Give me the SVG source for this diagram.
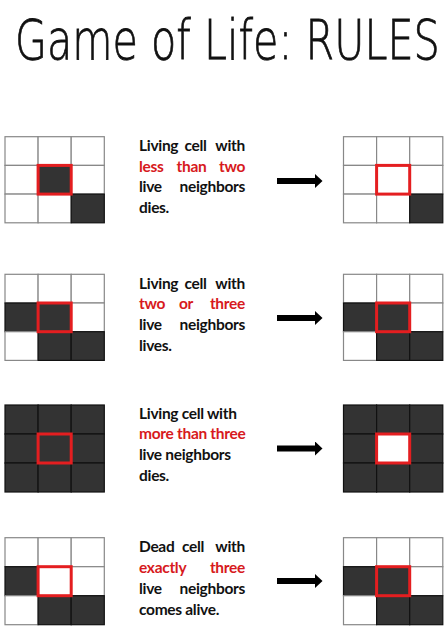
<svg xmlns="http://www.w3.org/2000/svg" width="448" height="630" viewBox="0 0 448 630">
<defs>
<style>
.c{fill:#fff;stroke:#888;stroke-width:1.2}
.d{fill:#333;stroke:#111;stroke-width:1.2}
.r{fill:none;stroke:#e41e20;stroke-width:3}
.t{font-family:Lato,"Liberation Sans",sans-serif;font-weight:bold;font-size:15.5px;letter-spacing:-0.3px;fill:#111}
.red{fill:#d71920}
.m{text-anchor:middle}
.e{text-anchor:end}
.arr{stroke:#000;stroke-width:6;fill:none}
.title{font-family:"DejaVu Sans",sans-serif;font-weight:200;font-size:56px;fill:#111;stroke:#111;stroke-width:0.8}
</style>
<marker id="ah" markerUnits="userSpaceOnUse" markerWidth="8" markerHeight="14" refX="0" refY="7" orient="auto">
<path d="M0,0 L7.5,7 L0,14 z" fill="#000"/>
</marker>
</defs>
<rect width="448" height="630" fill="#fff"/>
<text class="title" transform="translate(15,59) scale(0.74,1)" x="0" y="0" textLength="574" lengthAdjust="spacingAndGlyphs">Game of Life: RULES</text>

<!-- Rule 1 -->
<g id="grid1-before">
<rect class="c" x="5" y="136.7" width="33.1" height="28.7"/><rect class="c" x="38.1" y="136.7" width="33.1" height="28.7"/><rect class="c" x="71.2" y="136.7" width="33.1" height="28.7"/>
<rect class="c" x="5" y="165.4" width="33.1" height="28.7"/><rect class="d" x="38.1" y="165.4" width="33.1" height="28.7"/><rect class="c" x="71.2" y="165.4" width="33.1" height="28.7"/>
<rect class="c" x="5" y="194.1" width="33.1" height="28.7"/><rect class="c" x="38.1" y="194.1" width="33.1" height="28.7"/><rect class="d" x="71.2" y="194.1" width="33.1" height="28.7"/>
<rect class="r" x="38.1" y="165.4" width="33.1" height="28.7"/>
</g>
<g id="rule1-text">
<text class="t" y="151"><tspan x="139">Living</tspan><tspan x="195.5" class="m">cell</tspan><tspan x="245" class="e">with</tspan></text>
<text class="t red" y="171.5"><tspan x="139">less</tspan><tspan x="191.5" class="m">than</tspan><tspan x="245" class="e">two</tspan></text>
<text class="t" y="192"><tspan x="139">live</tspan><tspan x="245" class="e">neighbors</tspan></text>
<text class="t" y="212.5" x="139">dies.</text>
</g>
<g id="grid1-after">
<rect class="c" x="343.5" y="136.7" width="33.1" height="28.7"/><rect class="c" x="376.6" y="136.7" width="33.1" height="28.7"/><rect class="c" x="409.7" y="136.7" width="33.1" height="28.7"/>
<rect class="c" x="343.5" y="165.4" width="33.1" height="28.7"/><rect class="c" x="376.6" y="165.4" width="33.1" height="28.7"/><rect class="c" x="409.7" y="165.4" width="33.1" height="28.7"/>
<rect class="c" x="343.5" y="194.1" width="33.1" height="28.7"/><rect class="c" x="376.6" y="194.1" width="33.1" height="28.7"/><rect class="d" x="409.7" y="194.1" width="33.1" height="28.7"/>
<rect class="r" x="376.6" y="165.4" width="33.1" height="28.7"/>
</g>

<!-- Rule 2 -->
<g id="grid2-before">
<rect class="c" x="5" y="274.3" width="33.1" height="28.7"/><rect class="c" x="38.1" y="274.3" width="33.1" height="28.7"/><rect class="c" x="71.2" y="274.3" width="33.1" height="28.7"/>
<rect class="d" x="5" y="303" width="33.1" height="28.7"/><rect class="d" x="38.1" y="303" width="33.1" height="28.7"/><rect class="c" x="71.2" y="303" width="33.1" height="28.7"/>
<rect class="c" x="5" y="331.7" width="33.1" height="28.7"/><rect class="d" x="38.1" y="331.7" width="33.1" height="28.7"/><rect class="d" x="71.2" y="331.7" width="33.1" height="28.7"/>
<rect class="r" x="38.1" y="303" width="33.1" height="28.7"/>
</g>
<g id="rule2-text">
<text class="t" y="288.5"><tspan x="139">Living</tspan><tspan x="195.5" class="m">cell</tspan><tspan x="245" class="e">with</tspan></text>
<text class="t red" y="309.3"><tspan x="139">two</tspan><tspan x="186" class="m">or</tspan><tspan x="245" class="e">three</tspan></text>
<text class="t" y="330"><tspan x="139">live</tspan><tspan x="245" class="e">neighbors</tspan></text>
<text class="t" y="351" x="139">lives.</text>
</g>
<g id="grid2-after">
<rect class="c" x="343.5" y="274.3" width="33.1" height="28.7"/><rect class="c" x="376.6" y="274.3" width="33.1" height="28.7"/><rect class="c" x="409.7" y="274.3" width="33.1" height="28.7"/>
<rect class="d" x="343.5" y="303" width="33.1" height="28.7"/><rect class="d" x="376.6" y="303" width="33.1" height="28.7"/><rect class="c" x="409.7" y="303" width="33.1" height="28.7"/>
<rect class="c" x="343.5" y="331.7" width="33.1" height="28.7"/><rect class="d" x="376.6" y="331.7" width="33.1" height="28.7"/><rect class="d" x="409.7" y="331.7" width="33.1" height="28.7"/>
<rect class="r" x="376.6" y="303" width="33.1" height="28.7"/>
</g>

<!-- Rule 3 -->
<g id="grid3-before">
<rect class="d" x="5" y="405" width="33.1" height="29"/><rect class="d" x="38.1" y="405" width="33.1" height="29"/><rect class="d" x="71.2" y="405" width="33.1" height="29"/>
<rect class="d" x="5" y="434" width="33.1" height="29"/><rect class="d" x="38.1" y="434" width="33.1" height="29"/><rect class="d" x="71.2" y="434" width="33.1" height="29"/>
<rect class="d" x="5" y="463" width="33.1" height="29"/><rect class="d" x="38.1" y="463" width="33.1" height="29"/><rect class="d" x="71.2" y="463" width="33.1" height="29"/>
<rect class="r" x="38.1" y="434" width="33.1" height="29"/>
</g>
<g id="rule3-text">
<text class="t" x="139" y="418.5">Living cell with</text>
<text class="t red" x="139" y="439.3">more than three</text>
<text class="t" x="139" y="460">live neighbors</text>
<text class="t" x="139" y="481">dies.</text>
</g>
<g id="grid3-after">
<rect class="d" x="343.5" y="405" width="33.1" height="29"/><rect class="d" x="376.6" y="405" width="33.1" height="29"/><rect class="d" x="409.7" y="405" width="33.1" height="29"/>
<rect class="d" x="343.5" y="434" width="33.1" height="29"/><rect class="c" x="376.6" y="434" width="33.1" height="29"/><rect class="d" x="409.7" y="434" width="33.1" height="29"/>
<rect class="d" x="343.5" y="463" width="33.1" height="29"/><rect class="d" x="376.6" y="463" width="33.1" height="29"/><rect class="d" x="409.7" y="463" width="33.1" height="29"/>
<rect class="r" x="376.6" y="434" width="33.1" height="29"/>
</g>

<!-- Rule 4 -->
<g id="grid4-before">
<rect class="c" x="5" y="537.7" width="33.1" height="29"/><rect class="c" x="38.1" y="537.7" width="33.1" height="29"/><rect class="c" x="71.2" y="537.7" width="33.1" height="29"/>
<rect class="d" x="5" y="566.7" width="33.1" height="29"/><rect class="c" x="38.1" y="566.7" width="33.1" height="29"/><rect class="c" x="71.2" y="566.7" width="33.1" height="29"/>
<rect class="c" x="5" y="595.7" width="33.1" height="29"/><rect class="d" x="38.1" y="595.7" width="33.1" height="29"/><rect class="d" x="71.2" y="595.7" width="33.1" height="29"/>
<rect class="r" x="38.1" y="566.7" width="33.1" height="29"/>
</g>
<g id="rule4-text">
<text class="t" y="552.3"><tspan x="139">Dead</tspan><tspan x="193" class="m">cell</tspan><tspan x="245" class="e">with</tspan></text>
<text class="t red" y="573.3"><tspan x="139">exactly</tspan><tspan x="245" class="e">three</tspan></text>
<text class="t" y="594"><tspan x="139">live</tspan><tspan x="245" class="e">neighbors</tspan></text>
<text class="t" y="614.5" x="139">comes alive.</text>
</g>
<g id="grid4-after">
<rect class="c" x="343.5" y="537.7" width="33.1" height="29"/><rect class="c" x="376.6" y="537.7" width="33.1" height="29"/><rect class="c" x="409.7" y="537.7" width="33.1" height="29"/>
<rect class="d" x="343.5" y="566.7" width="33.1" height="29"/><rect class="d" x="376.6" y="566.7" width="33.1" height="29"/><rect class="c" x="409.7" y="566.7" width="33.1" height="29"/>
<rect class="c" x="343.5" y="595.7" width="33.1" height="29"/><rect class="d" x="376.6" y="595.7" width="33.1" height="29"/><rect class="d" x="409.7" y="595.7" width="33.1" height="29"/>
<rect class="r" x="376.6" y="566.7" width="33.1" height="29"/>
</g>

<g id="connectors">
<line class="arr" x1="277" y1="181" x2="315" y2="181" marker-end="url(#ah)"/>
<line class="arr" x1="277" y1="318" x2="315" y2="318" marker-end="url(#ah)"/>
<line class="arr" x1="277" y1="448.5" x2="315" y2="448.5" marker-end="url(#ah)"/>
<line class="arr" x1="277" y1="581" x2="315" y2="581" marker-end="url(#ah)"/>
</g>
</svg>
